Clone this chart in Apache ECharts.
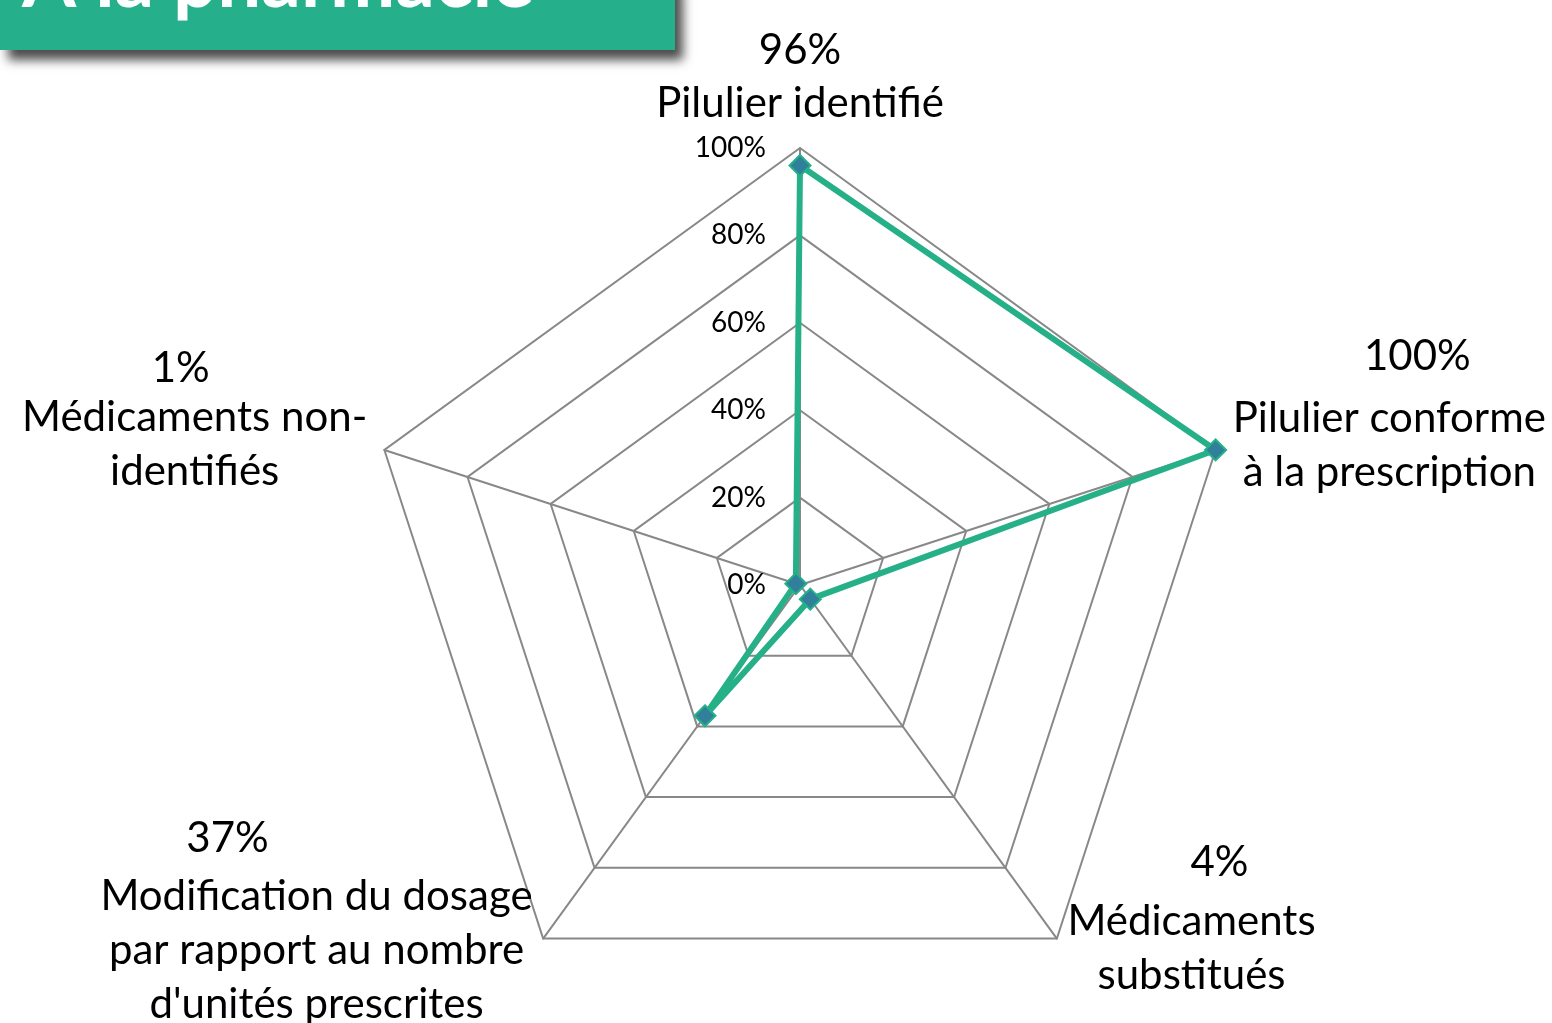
<!DOCTYPE html>
<html>
<head>
<meta charset="utf-8">
<script src="https://cdn.jsdelivr.net/npm/echarts@6/dist/echarts.min.js"></script>
<style>
  html, body { margin: 0; padding: 0; background: #fff; }
  #chart { width: 1552px; height: 1023px; }
</style>
</head>
<body>
<div id="chart"></div>
<script>
// categories in the radar's own order: top, then counter-clockwise
const categories = [
  'Pilulier identifié',
  'Médicaments non-\nidentifiés',
  "Modification du dosage\npar rapport au nombre\nd'unités prescrites",
  'Médicaments\nsubstitués',
  'Pilulier conforme\nà la prescription'
];
const percents = [96, 1, 37, 4, 100];
const axisMin = 0;
const axisMax = 100;
const tickCount = 5;

const green = '#25B088';
const markerBlue = '#31809B';
const gridGray = '#888888';
const font = 'Lato';

// where each category label sits round its vertex
const nameStyles = [
  { align: 'center', verticalAlign: 'bottom', rich: { p: { lineHeight: 52 } } },
  { align: 'right', verticalAlign: 'middle', padding: [0, 0, 44, 0], rich: { p: { lineHeight: 44, padding: [0, 28, 0, 0] } } },
  { align: 'right', verticalAlign: 'middle', padding: [0, 0, 68, 0], rich: { p: { lineHeight: 62, padding: [0, 178, 0, 0] } } },
  { align: 'left', verticalAlign: 'middle', padding: [0, 0, 74, 0], rich: { p: { lineHeight: 64, padding: [0, 0, 0, 56] } } },
  { align: 'left', verticalAlign: 'middle', padding: [0, 0, 68, 0], rich: { p: { lineHeight: 71, padding: [0, 0, 0, 56] } } }
];

const chart = echarts.init(document.getElementById('chart'));

const option = {
  backgroundColor: '#fff',
  textStyle: { fontFamily: font },
  animation: false,
  graphic: [
    {
      type: 'rect',
      shape: { x: 0, y: -20, width: 675, height: 70 },
      style: {
        fill: '#26AF8B',
        shadowColor: 'rgba(0,0,0,0.7)',
        shadowBlur: 10,
        shadowOffsetX: 8,
        shadowOffsetY: 10
      },
      z: 10
    },
    {
      type: 'text',
      x: 22,
      y: -18,
      style: {
        text: 'À la pharmacie',
        fill: '#fff',
        font: 'bold 78px Lato',
        verticalAlign: 'middle'
      },
      z: 11
    }
  ],
  radar: {
    center: [800, 585],
    radius: 437,
    startAngle: 90,
    shape: 'polygon',
    splitNumber: tickCount,
    axisNameGap: 18,
    axisName: {
      color: '#000',
      fontFamily: font,
      fontSize: 42,
      formatter: function (name) {
        const i = categories.indexOf(name);
        const lines = name.split('\n').map(s => '{n|' + s + '}').join('\n');
        return '{p|' + percents[i] + '%}\n' + lines;
      },
      rich: {
        p: { fontSize: 42, fontFamily: font, color: '#000', align: 'center', lineHeight: 54 },
        n: { fontSize: 42, fontFamily: font, color: '#000', align: 'center', lineHeight: 54 }
      }
    },
    axisLine: { lineStyle: { color: gridGray, width: 2 } },
    splitLine: { lineStyle: { color: gridGray, width: 2 } },
    splitArea: { show: false },
    axisTick: { show: false },
    axisLabel: { show: false },
    indicator: categories.map((name, i) => {
      const ind = { name: name, min: axisMin, max: axisMax, nameTextStyle: nameStyles[i] };
      if (i === 0) {
        ind.axisLabel = {
          show: true,
          color: '#000',
          fontSize: 28,
          fontFamily: font,
          margin: 34,
          formatter: '{value}%'
        };
      }
      return ind;
    })
  },
  series: [
    {
      type: 'radar',
      symbol: 'diamond',
      symbolSize: 21,
      lineStyle: { color: green, width: 6 },
      itemStyle: { color: markerBlue, borderColor: green, borderWidth: 2 },
      data: [{ value: percents, name: 'À la pharmacie' }]
    }
  ]
};

chart.setOption(option);
</script>
</body>
</html>
